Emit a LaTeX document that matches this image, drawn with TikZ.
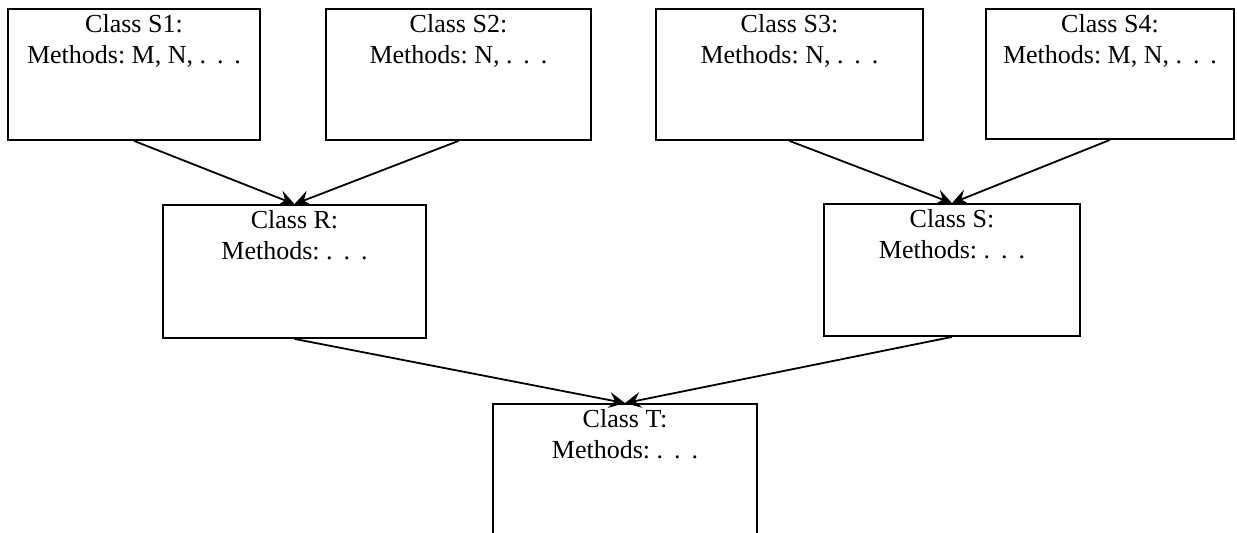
\documentclass[tikz,border=0pt]{standalone}
\usepackage{fontspec}
\setmainfont{Liberation Serif}
\usetikzlibrary{arrows.meta,positioning}
\frenchspacing
\newcommand{\etcdots}{.\hspace{0.42em}.\hspace{0.42em}.}

\begin{document}
\begin{tikzpicture}[x=0.5pt,y=0.5pt]
\tikzset{
  classbox/.style={rectangle,draw=black,line width=0.9pt,inner sep=0pt},
  classtext/.style={align=center,inner sep=3pt,font=\fontsize{13}{15.5}\selectfont},
  inherit/.style={draw=black,line width=0.9pt,-{Stealth[length=8pt,width=8pt,inset=3pt]}}
}
\clip (0,0) rectangle (1237,532);
% top row
\node[classbox,minimum width=126pt,minimum height=65.5pt] (n_S1) at (134,457.5) {};
\node[classbox,minimum width=132.5pt,minimum height=65.5pt] (n_S2) at (458.5,457.5) {};
\node[classbox,minimum width=133.5pt,minimum height=65.5pt] (n_S3) at (789.5,457.5) {};
\node[classbox,minimum width=124pt,minimum height=65pt] (n_S4) at (1110,458) {};
% middle row
\node[classbox,minimum width=131.5pt,minimum height=66.5pt] (n_R) at (294.5,260.5) {};
\node[classbox,minimum width=128pt,minimum height=66pt] (n_S) at (952,262) {};
% bottom
\node[classbox,minimum width=132pt,minimum height=66.5pt] (n_T) at (625,61.5) {};
% texts
\node[classtext,below=0pt of n_S1.north] (t_S1) {Class S1:\\Methods: M, N, \etcdots};
\node[classtext,below=0pt of n_S2.north] (t_S2) {Class S2:\\Methods: N, \etcdots};
\node[classtext,below=0pt of n_S3.north] (t_S3) {Class S3:\\Methods: N, \etcdots};
\node[classtext,below=0pt of n_S4.north] (t_S4) {Class S4:\\Methods: M, N, \etcdots};
\node[classtext,below=0pt of n_R.north] (t_R) {Class R:\\Methods: \etcdots};
\node[classtext,below=0pt of n_S.north] (t_S) {Class S:\\Methods: \etcdots};
\node[classtext,below=0pt of n_T.north] (t_T) {Class T:\\Methods: \etcdots};
% inheritance
\draw[inherit] (n_S1.south) -- (n_R.north);
\draw[inherit] (n_S2.south) -- (n_R.north);
\draw[inherit] (n_S3.south) -- (n_S.north);
\draw[inherit] (n_S4.south) -- (n_S.north);
\draw[inherit] (n_R.south) -- (n_T.north);
\draw[inherit] (n_S.south) -- (n_T.north);
\end{tikzpicture}
\end{document}
